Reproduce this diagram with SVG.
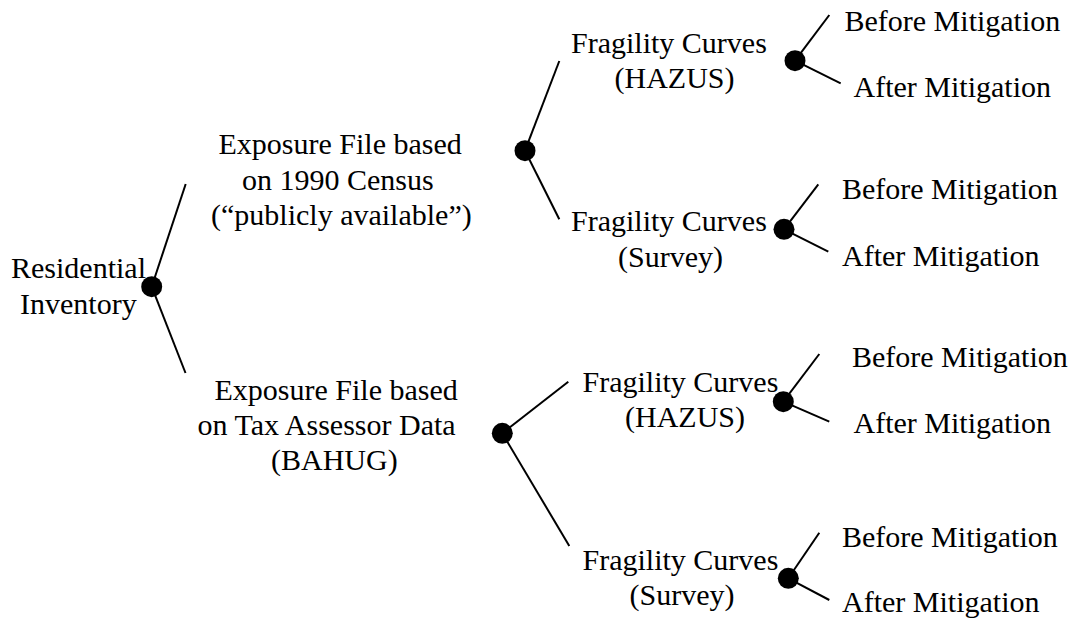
<svg xmlns="http://www.w3.org/2000/svg" width="1077" height="621" viewBox="0 0 1077 621">
  <style>
    text { font-family: "Liberation Serif", "Times New Roman", serif; font-size: 30px; fill: #000; }
    .edge { stroke: #000; stroke-width: 2; fill: none; stroke-linecap: butt; }
    .dot { fill: #000; }
  </style>
  <rect width="1077" height="621" fill="#fff"/>

  <!-- branch lines -->
  <g id="connectors">
    <line class="edge" x1="151.7" y1="286.7" x2="185.7" y2="184"/>
    <line class="edge" x1="151.7" y1="286.7" x2="185.5" y2="373"/>

    <line class="edge" x1="525" y1="150.7" x2="559.3" y2="61"/>
    <line class="edge" x1="525" y1="150.7" x2="559.3" y2="219.3"/>

    <line class="edge" x1="502.3" y1="433.3" x2="568.3" y2="381.7"/>
    <line class="edge" x1="502.3" y1="433.3" x2="569.3" y2="546"/>

    <line class="edge" x1="795" y1="60.7" x2="829.3" y2="15"/>
    <line class="edge" x1="795" y1="60.7" x2="840.7" y2="83.3"/>

    <line class="edge" x1="784" y1="229.3" x2="818.3" y2="184.3"/>
    <line class="edge" x1="784" y1="229.3" x2="828.3" y2="251.7"/>

    <line class="edge" x1="783.3" y1="401.7" x2="819.3" y2="354"/>
    <line class="edge" x1="783.3" y1="401.7" x2="829.3" y2="421.7"/>

    <line class="edge" x1="788.3" y1="578.3" x2="819.3" y2="532.7"/>
    <line class="edge" x1="788.3" y1="578.3" x2="829.3" y2="600"/>
  </g>

  <g id="residential-inventory">
    <text x="11" y="278">Residential</text>
    <text x="20" y="314">Inventory</text>
    <circle class="dot" cx="151.7" cy="286.7" r="10.5"/>
  </g>

  <g id="exposure-census">
    <text x="218.5" y="154">Exposure File based</text>
    <text x="242" y="190">on 1990 Census</text>
    <text x="211" y="225">(“publicly available”)</text>
    <circle class="dot" cx="525" cy="150.7" r="10.5"/>
  </g>

  <g id="exposure-tax-assessor">
    <text x="214.5" y="399.5">Exposure File based</text>
    <text x="197.5" y="435">on Tax Assessor Data</text>
    <text x="271" y="470">(BAHUG)</text>
    <circle class="dot" cx="502.3" cy="433.3" r="10.5"/>
  </g>

  <g id="fragility-hazus-census">
    <text x="571" y="52.7">Fragility Curves</text>
    <text x="614.5" y="87.5">(HAZUS)</text>
    <circle class="dot" cx="795" cy="60.7" r="10.5"/>
  </g>

  <g id="fragility-survey-census">
    <text x="571" y="231">Fragility Curves</text>
    <text x="618" y="266.5">(Survey)</text>
    <circle class="dot" cx="784" cy="229.3" r="10.5"/>
  </g>

  <g id="fragility-hazus-tax">
    <text x="582.5" y="391.7">Fragility Curves</text>
    <text x="625" y="427.3">(HAZUS)</text>
    <circle class="dot" cx="783.3" cy="401.7" r="10.5"/>
  </g>

  <g id="fragility-survey-tax">
    <text x="582.5" y="570">Fragility Curves</text>
    <text x="629.5" y="605">(Survey)</text>
    <circle class="dot" cx="788.3" cy="578.3" r="10.5"/>
  </g>

  <g id="before-hazus-census"><text x="844.5" y="30.7">Before Mitigation</text></g>
  <g id="after-hazus-census"><text x="853.5" y="96.7">After Mitigation</text></g>
  <g id="before-survey-census"><text x="842" y="199">Before Mitigation</text></g>
  <g id="after-survey-census"><text x="842" y="265.7">After Mitigation</text></g>
  <g id="before-hazus-tax"><text x="852" y="367.3">Before Mitigation</text></g>
  <g id="after-hazus-tax"><text x="853.5" y="433.3">After Mitigation</text></g>
  <g id="before-survey-tax"><text x="842" y="546.7">Before Mitigation</text></g>
  <g id="after-survey-tax"><text x="842" y="611.7">After Mitigation</text></g>
</svg>
